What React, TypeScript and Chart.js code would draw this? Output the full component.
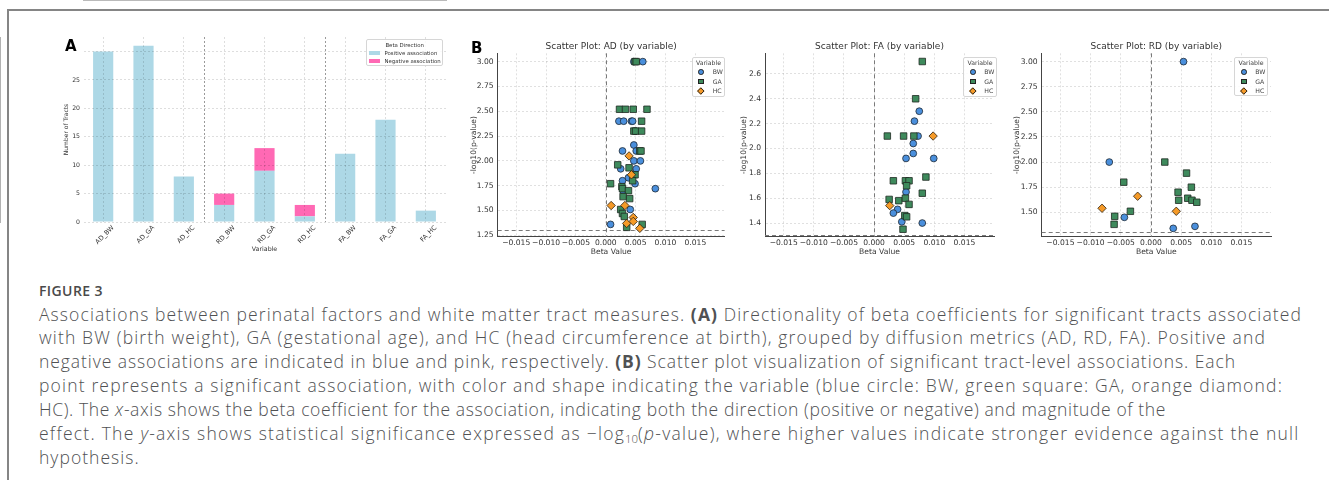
import React, { useEffect, useLayoutEffect, useRef, useState } from 'react';
import { Chart, registerables } from 'chart.js';

Chart.register(...registerables);
Chart.defaults.font.family = "'DejaVu Sans', sans-serif";

// ---------- Panel A data ----------
const barCategories = ['AD_BW', 'AD_GA', 'AD_HC', 'RD_BW', 'RD_GA', 'RD_HC', 'FA_BW', 'FA_GA', 'FA_HC'];
const positiveCounts = [30, 31, 8, 3, 9, 1, 12, 18, 2];
const negativeCounts = [0, 0, 0, 2, 4, 2, 0, 0, 0];
const groupBreaks = [2.5, 5.5];
const barYMax = 32.55;

// ---------- Panel B data: [beta, -log10(p)] ----------
const adBW = [
  [0.0047, 3.0], [0.0062, 3.0],
  [0.0022, 2.4], [0.003, 2.4], [0.0043, 2.4], [0.0045, 2.4],
  [0.0049, 2.3],
  [0.0047, 2.16], [0.0028, 2.1], [0.0051, 2.1],
  [0.0047, 2.0], [0.0058, 2.0],
  [0.0025, 1.92], [0.0051, 1.92],
  [0.0038, 1.83], [0.0028, 1.8], [0.0049, 1.77], [0.0029, 1.7],
  [0.0083, 1.72], [0.0041, 1.51], [0.0008, 1.36],
];
const adGA = [
  [0.0049, 3.0], [0.0051, 3.0],
  [0.0023, 2.52], [0.0033, 2.52], [0.0046, 2.52], [0.0069, 2.52],
  [0.006, 2.4],
  [0.0047, 2.3], [0.005, 2.3], [0.006, 2.3],
  [0.0057, 2.1], [0.0059, 2.1],
  [0.002, 1.96], [0.0039, 1.93], [0.0049, 1.86], [0.0045, 1.8],
  [0.0008, 1.77], [0.0027, 1.74], [0.0028, 1.72], [0.0038, 1.7],
  [0.0029, 1.64], [0.004, 1.62], [0.0025, 1.51], [0.0028, 1.47],
  [0.0031, 1.44], [0.0061, 1.36], [0.0035, 1.33],
];
const adHC = [
  [0.0039, 2.05], [0.0043, 1.86], [0.0009, 1.55], [0.0032, 1.55],
  [0.0046, 1.43], [0.0035, 1.37], [0.0046, 1.39], [0.0057, 1.32],
];

const faBW = [
  [0.0075, 2.3], [0.0067, 2.22], [0.0073, 2.1], [0.0065, 2.04], [0.0065, 1.96],
  [0.0053, 1.92], [0.0099, 1.92], [0.0053, 1.65], [0.0039, 1.51], [0.0032, 1.48],
  [0.0046, 1.41], [0.008, 1.4],
];
const faGA = [
  [0.008, 2.7], [0.0069, 2.4], [0.0022, 2.1], [0.0049, 2.1], [0.0066, 2.1],
  [0.0086, 1.77], [0.0032, 1.74], [0.0052, 1.74], [0.0058, 1.74], [0.0054, 1.7],
  [0.008, 1.64], [0.0025, 1.59], [0.0041, 1.58], [0.0052, 1.6], [0.0058, 1.55],
  [0.0051, 1.46], [0.0054, 1.45], [0.0048, 1.35],
];
const faHC = [[0.0098, 2.1], [0.0026, 1.54]];

const rdBW = [[0.0054, 3.0], [-0.0069, 2.0], [-0.0044, 1.45], [0.0037, 1.34], [0.0073, 1.36]];
const rdGA = [
  [0.0023, 2.0], [0.0059, 1.89], [-0.0045, 1.8], [0.0067, 1.75], [0.0045, 1.7],
  [0.0061, 1.64], [0.0046, 1.62], [0.0068, 1.62], [0.0076, 1.6], [-0.0034, 1.51],
  [-0.006, 1.46], [-0.0061, 1.38],
];
const rdHC = [[-0.0022, 1.66], [-0.0081, 1.54], [0.0042, 1.51]];

const significanceLine = 1.301;
const betaMin = -0.0181;
const betaMax = 0.0199;
const betaStep = 0.005;

const COLORS = {
  pos: '#add8e6',
  neg: '#ff69b4',
  bw: '#4a8fdc',
  ga: '#3e8a5c',
  hc: '#f59a28',
};

const TEXT = '#333';

// ---------- plugins ----------
const groupSeparators = {
  id: 'groupSeparators',
  afterDatasetsDraw(chart: any) {
    const { ctx, chartArea: a, scales } = chart;
    const x = scales.x;
    ctx.save();
    ctx.strokeStyle = '#9a9a9a';
    ctx.lineWidth = 1;
    ctx.setLineDash([2, 2]);
    groupBreaks.forEach((b) => {
      const px = Math.round(x.getPixelForValue(b)) + 0.5;
      ctx.beginPath();
      ctx.moveTo(px, a.top);
      ctx.lineTo(px, a.bottom);
      ctx.stroke();
    });
    ctx.restore();
  },
};

const refLines = {
  id: 'refLines',
  beforeDatasetsDraw(chart: any) {
    const { ctx, chartArea: a, scales } = chart;
    const { x, y } = scales;
    ctx.save();
    ctx.strokeStyle = '#7a7a7a';
    ctx.lineWidth = 1;
    ctx.setLineDash([4, 3]);
    const x0 = Math.round(x.getPixelForValue(0)) + 0.5;
    ctx.beginPath();
    ctx.moveTo(x0, a.top);
    ctx.lineTo(x0, a.bottom);
    ctx.stroke();
    const yt = Math.round(y.getPixelForValue(significanceLine)) + 0.5;
    ctx.beginPath();
    ctx.moveTo(a.left, yt);
    ctx.lineTo(a.right, yt);
    ctx.stroke();
    ctx.restore();
  },
};

// ---------- generic canvas ----------
function ChartCanvas({ make, left, top, width, height }: any) {
  const ref = useRef<HTMLCanvasElement>(null);
  useEffect(() => {
    const chart = new Chart(ref.current as HTMLCanvasElement, make());
    return () => chart.destroy();
  }, []);
  return (
    <canvas
      ref={ref}
      width={width}
      height={height}
      style={{ position: 'absolute', left, top, width, height }}
    />
  );
}

function makeBarConfig(): any {
  return {
    type: 'bar',
    data: {
      labels: barCategories,
      datasets: [
        {
          label: 'Positive association',
          data: positiveCounts,
          backgroundColor: COLORS.pos,
          barPercentage: 0.5,
          categoryPercentage: 1,
        },
        {
          label: 'Negative association',
          data: negativeCounts,
          backgroundColor: COLORS.neg,
          barPercentage: 0.5,
          categoryPercentage: 1,
        },
      ],
    },
    options: {
      animation: false,
      responsive: false,
      devicePixelRatio: 1,
      layout: { padding: { top: 37, right: 14, left: 0, bottom: 0 } },
      plugins: { legend: { display: false }, tooltip: { enabled: false }, title: { display: false } },
      scales: {
        x: {
          stacked: true,
          afterFit: (s: any) => {
            s.height = 48;
          },
          grid: { offset: false, color: 'rgba(0,0,0,0.13)', drawTicks: false, z: 1 },
          border: { color: '#777', width: 1, dash: [2, 2] },
          ticks: {
            autoSkip: false,
            minRotation: 45,
            maxRotation: 45,
            labelOffset: 10,
            padding: 2,
            font: { size: 6.5 },
            color: TEXT,
          },
          title: {
            display: true,
            text: 'Variable',
            font: { size: 6.3 },
            color: TEXT,
            padding: { top: 0, bottom: 16.5 },
          },
        },
        y: {
          stacked: true,
          min: 0,
          max: barYMax,
          afterFit: (s: any) => {
            s.width = 83;
          },
          grid: { color: 'rgba(0,0,0,0.13)', drawTicks: false, z: 1 },
          border: { color: '#666', width: 1, dash: [2, 2] },
          ticks: {
            stepSize: 5,
            includeBounds: false,
            padding: 3,
            font: { size: 6.2 },
            color: TEXT,
            callback: (v: number) => (v === 30 ? '' : String(v)),
          },
          title: {
            display: true,
            text: 'Number of Tracts',
            font: { size: 6 },
            color: TEXT,
            padding: { top: 63, bottom: 0 },
          },
        },
      },
    },
    plugins: [groupSeparators],
  };
}

function pts(arr: number[][]) {
  return arr.map(([x, y]) => ({ x, y }));
}

function fmtBeta(v: number) {
  if (Math.abs(v) < 1e-9) return '0.000';
  return (v < 0 ? '\u2212' : '') + Math.abs(v).toFixed(3);
}

function makeScatterConfig(p: any): any {
  return () => ({
    type: 'scatter',
    data: {
      datasets: [
        {
          label: 'BW',
          data: pts(p.bw),
          pointStyle: 'circle',
          radius: 3.4,
          backgroundColor: COLORS.bw,
          borderColor: '#1f2a33',
          borderWidth: 0.8,
          order: 3,
        },
        {
          label: 'GA',
          data: pts(p.ga),
          pointStyle: 'rect',
          radius: 4.6,
          backgroundColor: COLORS.ga,
          borderColor: '#1f2a22',
          borderWidth: 0.8,
          order: 2,
        },
        {
          label: 'HC',
          data: pts(p.hc),
          pointStyle: 'rectRot',
          radius: 4.2,
          backgroundColor: COLORS.hc,
          borderColor: '#2a2010',
          borderWidth: 0.8,
          order: 1,
        },
      ],
    },
    options: {
      animation: false,
      responsive: false,
      devicePixelRatio: 1,
      layout: { padding: { left: 0, right: p.rightPad, top: 0, bottom: 0 } },
      plugins: {
        legend: { display: false },
        tooltip: { enabled: false },
        title: {
          display: true,
          fullSize: false,
          text: p.title,
          color: TEXT,
          font: { size: 9, weight: 'normal' },
          padding: { top: 11, bottom: 1.5 },
        },
      },
      scales: {
        x: {
          type: 'linear',
          min: betaMin,
          max: betaMax,
          afterFit: (s: any) => {
            s.height = 33.3;
          },
          grid: { color: 'rgba(0,0,0,0.12)', drawTicks: false },
          border: { color: '#444', width: 1, dash: [2, 2] },
          ticks: {
            stepSize: betaStep,
            includeBounds: false,
            padding: 1.5,
            font: { size: 7.6 },
            color: TEXT,
            callback: (v: number) => fmtBeta(v),
          },
          title: {
            display: true,
            text: 'Beta Value',
            font: { size: 7.6 },
            color: TEXT,
            padding: { top: 0, bottom: 13.6 },
          },
        },
        y: {
          min: p.yMin,
          max: p.yMax,
          afterFit: (s: any) => {
            s.width = p.yWidth;
          },
          grid: { color: 'rgba(0,0,0,0.12)', drawTicks: false },
          border: { color: '#444', width: 1, dash: [2, 2] },
          ticks: {
            stepSize: p.yStep,
            includeBounds: false,
            padding: 4,
            font: { size: 7.6 },
            color: TEXT,
            callback: (v: number) => v.toFixed(p.yDigits),
          },
          title: {
            display: true,
            text: '-log10(p-value)',
            font: { size: 7.6 },
            color: TEXT,
            padding: { top: p.yTitlePad, bottom: 0 },
          },
        },
      },
    },
    plugins: [refLines],
  });
}

// ---------- legends (HTML) ----------
function Marker({ kind, color }: any) {
  const base: any = { position: 'absolute', left: -2.8, top: -2.8, width: 5.6, height: 5.6, background: color, border: '0.8px solid #222', boxSizing: 'border-box' };
  if (kind === 'circle') base.borderRadius = '50%';
  if (kind === 'diamond') {
    base.transform = 'rotate(45deg) scale(0.9)';
  }
  return <div style={base} />;
}

function ScatterLegend({ left, top, width, height }: any) {
  const rows = [
    { kind: 'circle', color: COLORS.bw, label: 'BW' },
    { kind: 'square', color: COLORS.ga, label: 'GA' },
    { kind: 'diamond', color: COLORS.hc, label: 'HC' },
  ];
  return (
    <div
      style={{
        position: 'absolute',
        left,
        top,
        width,
        height,
        border: '1px solid #d6d6d6',
        borderRadius: 2,
        background: 'rgba(255,255,255,0.85)',
        boxSizing: 'border-box',
        fontFamily: "'DejaVu Sans', sans-serif",
        fontSize: 6.2,
        color: '#444',
      }}
    >
      <div style={{ position: 'absolute', left: 0, width: '100%', top: 1.5, textAlign: 'center', lineHeight: '8px' }}>Variable</div>
      {rows.map((r, i) => (
        <div key={r.label} style={{ position: 'absolute', left: 0, top: 14.5 + i * 9.5, width: '100%' }}>
          <div style={{ position: 'absolute', left: 8.5, top: 0 }}>
            <Marker kind={r.kind} color={r.color} />
          </div>
          <div style={{ position: 'absolute', left: 20, top: -4, lineHeight: '8px' }}>{r.label}</div>
        </div>
      ))}
    </div>
  );
}

function BarLegend() {
  const rows = [
    { color: COLORS.pos, label: 'Positive association' },
    { color: COLORS.neg, label: 'Negative association' },
  ];
  return (
    <div
      style={{
        position: 'absolute',
        left: 366,
        top: 39.3,
        width: 77.3,
        height: 26.7,
        border: '1px solid #d6d6d6',
        borderRadius: 2,
        background: 'rgba(255,255,255,0.85)',
        boxSizing: 'border-box',
        fontFamily: "'DejaVu Sans', sans-serif",
        fontSize: 5.4,
        color: TEXT,
      }}
    >
      <div style={{ position: 'absolute', left: 0, width: '100%', top: 1.5, textAlign: 'center', lineHeight: '6px' }}>Beta Direction</div>
      {rows.map((r, i) => (
        <div key={r.label} style={{ position: 'absolute', left: 0, top: 12.5 + i * 8.4, width: '100%' }}>
          <div style={{ position: 'absolute', left: 1.5, top: -2, width: 11.7, height: 4, background: r.color }} />
          <div style={{ position: 'absolute', left: 17.5, top: -3, lineHeight: '6px', whiteSpace: 'nowrap' }}>{r.label}</div>
        </div>
      ))}
    </div>
  );
}

// ---------- caption ----------
const captionFont = "'Open Sans', 'Noto Sans', sans-serif";
const B = ({ children }: any) => <span style={{ fontWeight: 700 }}>{children}</span>;
const captionLines: React.ReactNode[] = [
  <>Associations between perinatal factors and white matter tract measures. <B>(A)</B> Directionality of beta coefficients for significant tracts associated</>,
  <>with BW (birth weight), GA (gestational age), and HC (head circumference at birth), grouped by diffusion metrics (AD, RD, FA). Positive and</>,
  <>negative associations are indicated in blue and pink, respectively. <B>(B)</B> Scatter plot visualization of significant tract-level associations. Each</>,
  <>point represents a significant association, with color and shape indicating the variable (blue circle: BW, green square: GA, orange diamond:</>,
  <>HC). The <i>x</i>-axis shows the beta coefficient for the association, indicating both the direction (positive or negative) and magnitude of the</>,
  <>effect. The <i>y</i>-axis shows statistical significance expressed as −log<sub style={{ fontSize: '0.65em', verticalAlign: '-0.25em', letterSpacing: 0 }}>10</sub>(<i>p</i>-value), where higher values indicate stronger evidence against the null</>,
  <>hypothesis.</>,
];
// right end (px) of each wrapped caption line; null = follow the other lines
const captionLineEnds: (number | null)[] = [1302, 1266, 1236, 1283, 1166, 1302, null];
const CAPTION_LEFT = 39;

function Caption() {
  const refs = useRef<(HTMLDivElement | null)[]>([]);
  const [spacing, setSpacing] = useState<number[]>(captionLines.map(() => 0));
  useLayoutEffect(() => {
    const raw = refs.current.map((el, i) => {
      const end = captionLineEnds[i];
      if (!el || end === null) return null;
      const w = el.getBoundingClientRect().width;
      const n = (el.textContent || '').length;
      return (end - CAPTION_LEFT - w) / n;
    });
    const known = raw.filter((v) => v !== null) as number[];
    const avg = known.reduce((a, b) => a + b, 0) / Math.max(1, known.length);
    setSpacing(raw.map((v) => (v === null ? avg : v)));
  }, []);
  return (
    <>
      {captionLines.map((line, i) => (
        <div
          key={i}
          ref={(el) => {
            refs.current[i] = el;
          }}
          style={{
            position: 'absolute',
            left: CAPTION_LEFT,
            top: 301.5 + i * 23.9,
            fontFamily: captionFont,
            fontSize: 17.5,
            fontWeight: 300,
            lineHeight: '24px',
            color: '#505153',
            whiteSpace: 'nowrap',
            letterSpacing: spacing[i],
          }}
        >
          {line}
        </div>
      ))}
    </>
  );
}

const scatterPanels = [
  { key: 'AD', title: 'Scatter Plot: AD (by variable)', bw: adBW, ga: adGA, hc: adHC, yMin: 1.236, yMax: 3.084, yStep: 0.25, yDigits: 2, left: 460, width: 270, yWidth: 37.7, rightPad: 3, yTitlePad: 9.6, legend: { left: 691.7, top: 56.7, width: 33.5, height: 40 } },
  { key: 'FA', title: 'Scatter Plot: FA (by variable)', bw: faBW, ga: faGA, hc: faHC, yMin: 1.29, yMax: 2.766, yStep: 0.2, yDigits: 1, left: 730, width: 270, yWidth: 35, rightPad: 6, yTitlePad: 9.6, legend: { left: 963.3, top: 56.7, width: 33.5, height: 40 } },
  { key: 'RD', title: 'Scatter Plot: RD (by variable)', bw: rdBW, ga: rdGA, hc: rdHC, yMin: 1.257, yMax: 3.083, yStep: 0.25, yDigits: 2, left: 1000, width: 280, yWidth: 41.7, rightPad: 9, yTitlePad: 12.3, legend: { left: 1234.3, top: 56.7, width: 33.5, height: 39 } },
];

export default function App() {
  return (
    <div style={{ position: 'absolute', left: 0, top: 0, width: 1329, height: 480, background: '#fff', overflow: 'hidden' }}>
      <div style={{ position: 'absolute', left: 7, top: 9, width: 1322, height: 2, background: '#858585' }} />
      <div style={{ position: 'absolute', left: 7, top: 9, width: 2, height: 471, background: '#858585' }} />
      <ChartCanvas make={makeBarConfig} left={0} top={0} width={460} height={270} />
      <BarLegend />
      {scatterPanels.map((p) => (
        <React.Fragment key={p.key}>
          <ChartCanvas make={makeScatterConfig(p)} left={p.left} top={30} width={p.width} height={240} />
          <ScatterLegend {...p.legend} />
        </React.Fragment>
      ))}
      <div style={{ position: 'absolute', left: 65, top: 39, fontFamily: "'DejaVu Sans', sans-serif", fontWeight: 'bold', fontSize: 15, lineHeight: '15px', color: '#000' }}>A</div>
      <div style={{ position: 'absolute', left: 471, top: 40.5, fontFamily: "'DejaVu Sans', sans-serif", fontWeight: 'bold', fontSize: 15, lineHeight: '15px', color: '#000' }}>B</div>
      <div style={{ position: 'absolute', left: 39, top: 283, fontFamily: captionFont, fontWeight: 600, fontSize: 14, lineHeight: '16px', letterSpacing: 0.4, color: '#4a4a4a', whiteSpace: 'nowrap' }}>FIGURE 3</div>
      <Caption />
    </div>
  );
}
